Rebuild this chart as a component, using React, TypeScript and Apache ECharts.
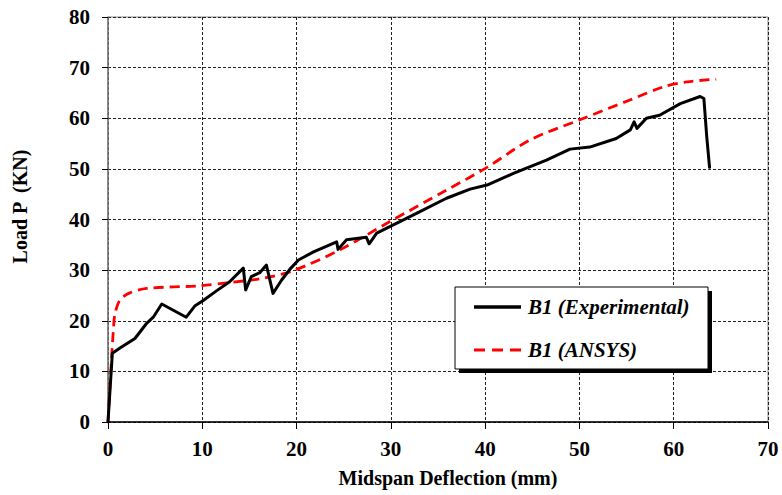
import React, { useEffect, useRef } from "react";
import * as echarts from "echarts";

const expX = [0, 0.46, 1.27, 2.86, 4.1, 4.8, 5.7, 8.3, 9.2, 10.1, 11.5, 12.9, 14.35, 14.6, 15.2, 16.1, 16.8, 17.5, 18.4, 19.3, 20.2, 21.8, 24.25, 24.4, 25.3, 27.4, 27.7, 28.5, 32.4, 35.9, 38.4, 40.2, 43.0, 46.5, 49.0, 51.1, 53.9, 55.4, 55.8, 56.1, 57.1, 58.5, 60.7, 62.8, 63.2, 63.5, 63.8];
const expY = [0, 13.6, 14.6, 16.5, 19.5, 20.7, 23.3, 20.7, 22.9, 24.0, 25.9, 27.7, 30.4, 26.1, 28.7, 29.5, 31.0, 25.4, 28.0, 30.2, 32.0, 33.6, 35.6, 34.1, 36.0, 36.5, 35.2, 37.3, 40.9, 44.2, 46.0, 46.8, 49.1, 51.75, 53.9, 54.3, 56.0, 57.7, 59.3, 58.0, 60.0, 60.6, 62.9, 64.3, 63.9, 56.4, 50.3];

const ansX = [0, 0.3, 0.57, 0.74, 1.27, 2.3, 4.1, 9.75, 12.6, 16.1, 19.5, 24.6, 29.9, 35.9, 40.2, 44.75, 50.05, 55.35, 58.9, 61.4, 64.5];
const ansY = [0, 10, 18.2, 21.4, 24.1, 25.5, 26.4, 26.9, 27.5, 28.3, 29.8, 34.0, 39.6, 45.8, 50.3, 55.7, 59.7, 63.6, 66.2, 67.2, 67.7];

const xTicks = [0, 10, 20, 30, 40, 50, 60, 70];
const yTicks = [0, 10, 20, 30, 40, 50, 60, 70, 80];

const seriesNames = ["B1 (Experimental)", "B1 (ANSYS)"];

export default function App() {
  const ref = useRef<HTMLDivElement>(null);
  useEffect(() => {
    if (!ref.current) return;
    const chart = echarts.init(ref.current, null, { renderer: "svg" });
    const font = "'Liberation Serif', 'Times New Roman', serif";
    const gridLine = { show: true, lineStyle: { color: "#222", type: [3, 2] as any, width: 1 } };
    const legendText = { fontFamily: font, fontWeight: "bold", fontStyle: "italic", fontSize: 21, fill: "#000" };
    chart.setOption({
      animation: false,
      backgroundColor: "#fff",
      grid: { left: 108, right: 14, top: 17, bottom: 73, show: true, borderColor: "#888", borderWidth: 1 },
      xAxis: {
        type: "value",
        min: xTicks[0],
        max: xTicks[xTicks.length - 1],
        interval: 10,
        name: "Midspan Deflection (mm)",
        nameLocation: "middle",
        nameGap: 46,
        nameTextStyle: { fontFamily: font, fontWeight: "bold", fontSize: 20, color: "#000", padding: [0, 0, 0, 20] },
        axisLine: { lineStyle: { color: "#000", width: 1.5 } },
        axisTick: { show: true, length: 7, inside: false, lineStyle: { color: "#000" } },
        axisLabel: { fontFamily: font, fontWeight: "bold", fontSize: 21, color: "#000", margin: 16 },
        splitLine: gridLine,
      },
      yAxis: {
        type: "value",
        min: yTicks[0],
        max: yTicks[yTicks.length - 1],
        interval: 10,
        name: "Load P  (KN)",
        nameLocation: "middle",
        nameGap: 78,
        nameRotate: 90,
        nameTextStyle: { fontFamily: font, fontWeight: "bold", fontSize: 20, color: "#000", padding: [0, 0, 0, 26] },
        axisLine: { show: true, lineStyle: { color: "#777", width: 1.5 } },
        axisTick: { show: true, length: 6, inside: false, lineStyle: { color: "#000" } },
        axisLabel: { fontFamily: font, fontWeight: "bold", fontSize: 21, color: "#000", margin: 18 },
        splitLine: gridLine,
      },
      series: [
        {
          name: seriesNames[0],
          type: "line",
          data: expX.map((x, i) => [x, expY[i]]),
          showSymbol: false,
          symbol: "none",
          lineStyle: { color: "#000", width: 3, join: "round", cap: "round" },
          itemStyle: { color: "#000" },
          z: 3,
        },
        {
          name: seriesNames[1],
          type: "line",
          data: ansX.map((x, i) => [x, ansY[i]]),
          showSymbol: false,
          symbol: "none",
          smooth: 0.3,
          lineStyle: { color: "#ff0000", width: 2.8, type: [10, 6] as any },
          itemStyle: { color: "#ff0000" },
          z: 2,
        },
      ],
      graphic: [
        { type: "rect", z: 50, shape: { x: 459, y: 291, width: 253, height: 82 }, style: { fill: "#000" } },
        { type: "rect", z: 51, shape: { x: 455, y: 287, width: 253, height: 82 }, style: { fill: "#fff", stroke: "#000", lineWidth: 1 } },
        { type: "line", z: 52, shape: { x1: 474, y1: 307, x2: 521, y2: 307 }, style: { stroke: "#000", lineWidth: 3.5 } },
        { type: "line", z: 52, shape: { x1: 474, y1: 350, x2: 522, y2: 350 }, style: { stroke: "#ff0000", lineWidth: 3, lineDash: [11, 7] } },
        { type: "text", z: 52, x: 528, y: 307, style: { ...legendText, text: seriesNames[0], verticalAlign: "middle" } },
        { type: "text", z: 52, x: 528, y: 350, style: { ...legendText, text: seriesNames[1], verticalAlign: "middle" } },
      ],
    });
    return () => chart.dispose();
  }, []);
  return <div ref={ref} style={{ width: 782, height: 495, position: "absolute", left: 0, top: 0 }} />;
}
